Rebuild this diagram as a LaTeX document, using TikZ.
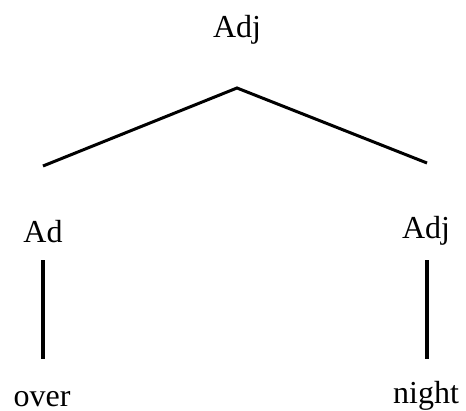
\documentclass[tikz,border=0pt]{standalone}
\usepackage{fontspec}
\setmainfont{Liberation Serif}
\usepackage{tikz}

\begin{document}
\begin{tikzpicture}[
            x=1pt,y=-1pt,
            word/.style={anchor=base,inner sep=0pt,font=\fontsize{32}{38}\selectfont},
            branch/.style={line width=3pt},
            stem/.style={line width=4pt}
        ]
            \useasboundingbox (0,0) rectangle (466,410);

            % labels of the tree
            \node[word] (root)  at (237,37)  {Adj};
            \node[word] (ad)    at (43,242)  {Ad};
            \node[word] (adj)   at (426,238) {Adj};
            \node[word] (over)  at (42,406)  {over};
            \node[word] (night) at (426,403) {night};

            % ends of the branches
            \coordinate (apex)   at (237,88);
            \coordinate (lfoot)  at (43,166);
            \coordinate (rfoot)  at (427,163);
            \coordinate (adtop)  at (43,260);
            \coordinate (adbot)  at (43,359);
            \coordinate (adjtop) at (427,260);
            \coordinate (adjbot) at (427,359);

            \draw[branch] (lfoot) -- (apex) -- (rfoot);
            \draw[stem] (adtop) -- (adbot);
            \draw[stem] (adjtop) -- (adjbot);
        \end{tikzpicture}
\end{document}
